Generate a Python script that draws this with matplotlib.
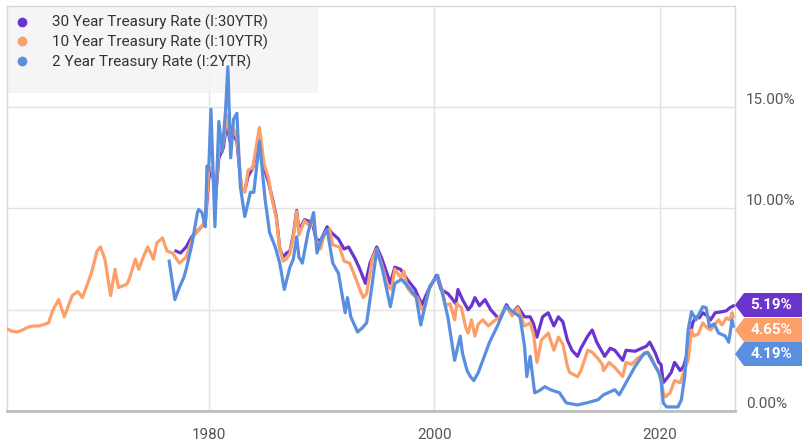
import matplotlib
matplotlib.use("Agg")
import matplotlib.pyplot as plt
from matplotlib.patches import Polygon, Rectangle
from matplotlib.lines import Line2D

plt.rcParams['font.family'] = ['Roboto', 'DejaVu Sans']

# ---------------- data ----------------
y10_t = [1962.0, 1962.5, 1963.0, 1963.5, 1964.0, 1964.5, 1965.0, 1965.8, 1966.2, 1966.7,
         1967.2, 1967.9, 1968.4, 1968.8, 1969.2, 1969.6, 1970.1, 1970.4, 1970.8, 1971.3,
         1971.7, 1972.0, 1972.5, 1972.8, 1973.0, 1973.5, 1973.8, 1974.2, 1974.6, 1975.1,
         1975.4, 1975.9, 1976.3, 1976.8, 1977.4, 1978.0, 1978.6, 1979.2, 1979.7, 1980.0,
         1980.3, 1980.6, 1980.9, 1981.3, 1981.6, 1981.9, 1982.1, 1982.5, 1982.9, 1983.2,
         1983.5, 1983.9, 1984.5, 1984.9, 1985.3, 1985.6, 1986.0, 1986.3, 1986.6, 1986.9,
         1987.2, 1987.5, 1987.8, 1988.0, 1988.5, 1989.0, 1989.3, 1989.6, 1989.9, 1990.3,
         1990.7, 1991.0, 1991.6, 1992.0, 1992.5, 1993.0, 1993.4, 1993.7, 1994.0, 1994.5,
         1994.9, 1995.3, 1995.9, 1996.2, 1996.5, 1997.0, 1997.3, 1997.6, 1998.0, 1998.5,
         1998.9, 1999.2, 1999.6, 2000.0, 2000.3, 2000.7, 2001.0, 2001.4, 2001.8, 2002.0,
         2002.4, 2002.8, 2003.0, 2003.3, 2003.6, 2003.9, 2004.3, 2004.8, 2005.2, 2005.8,
         2006.4, 2006.9, 2007.4, 2008.0, 2008.5, 2008.8, 2009.1, 2009.5, 2010.1, 2010.6,
         2011.0, 2011.4, 2011.8, 2012.0, 2012.7, 2013.0, 2013.6, 2014.0, 2014.5, 2014.9,
         2015.0, 2015.5, 2016.0, 2016.7, 2017.0, 2017.5, 2018.0, 2018.9, 2019.2, 2019.6,
         2019.9, 2020.1, 2020.3, 2020.5, 2020.9, 2021.3, 2021.8, 2022.1, 2022.5, 2022.8,
         2023.0, 2023.4, 2023.8, 2024.2, 2024.5, 2024.9, 2025.2, 2025.5, 2025.9, 2026.2,
         2026.4, 2026.5]
y10_v = [4.1, 3.95, 3.9, 4.0, 4.15, 4.2, 4.2, 4.35, 5.0, 5.5,
         4.65, 5.7, 5.9, 5.6, 6.2, 6.8, 7.9, 8.1, 7.5, 5.7,
         7.0, 6.1, 6.2, 6.3, 6.6, 7.5, 7.0, 7.6, 8.1, 7.5,
         8.3, 8.55, 7.9, 7.8, 7.3, 7.6, 8.6, 9.0, 9.4, 11.9,
         12.0, 10.5, 12.9, 13.2, 14.6, 13.5, 14.1, 13.5, 11.1, 10.8,
         11.9, 12.0, 14.0, 12.2, 11.5, 10.5, 9.5, 8.0, 7.4, 7.5,
         7.8, 8.6, 9.85, 8.7, 9.4, 9.1, 9.3, 8.3, 8.0, 8.8,
         9.0, 8.2, 8.1, 7.4, 7.3, 6.6, 6.0, 5.6, 5.8, 7.5,
         8.0, 7.3, 6.15, 6.0, 7.0, 6.6, 6.9, 6.1, 5.8, 5.6,
         5.0, 5.2, 6.15, 6.5, 6.6, 6.0, 5.2, 5.3, 4.5, 5.3,
         5.1, 4.1, 3.85, 4.5, 3.7, 4.3, 4.5, 4.2, 4.4, 4.65,
         5.15, 4.7, 5.1, 4.2, 4.35, 3.8, 2.4, 3.5, 3.85, 3.0,
         3.65, 3.3, 2.2, 1.9, 1.7, 2.0, 3.0, 2.9, 2.6, 2.3,
         2.0, 2.4, 2.15, 1.7, 2.4, 2.3, 2.6, 2.9, 2.7, 2.2,
         1.9, 1.6, 0.9, 0.7, 0.9, 1.5, 1.4, 1.9, 2.5, 4.0,
         3.7, 3.8, 4.35, 4.1, 4.0, 4.3, 4.5, 4.25, 4.6, 4.5,
         4.85, 4.65]

y30_t = [1977.1, 1977.5, 1978.0, 1978.5, 1979.2, 1979.7, 1980.0, 1980.3, 1980.6, 1980.9,
         1981.3, 1981.6, 1981.9, 1982.1, 1982.5, 1982.9, 1983.2, 1983.5, 1983.9, 1984.5,
         1984.9, 1985.3, 1985.6, 1986.0, 1986.3, 1986.6, 1986.9, 1987.2, 1987.5, 1987.8,
         1988.0, 1988.5, 1989.2, 1989.5, 1989.9, 1990.5, 1990.9, 1991.5, 1992.0, 1992.4,
         1993.0, 1993.4, 1993.9, 1994.3, 1994.9, 1995.3, 1995.8, 1996.1, 1996.5, 1997.0,
         1997.6, 1998.3, 1998.9, 1999.5, 2000.2, 2000.6, 2001.2, 2001.5, 2001.9, 2002.1,
         2002.5, 2003.0, 2003.3, 2003.6, 2004.0, 2004.5, 2005.0, 2005.8, 2006.4, 2006.9,
         2007.4, 2008.0, 2008.5, 2008.8, 2009.1, 2009.6, 2010.1, 2010.6, 2011.0, 2011.4,
         2011.8, 2012.2, 2012.7, 2013.0, 2013.6, 2014.0, 2014.4, 2015.1, 2015.6, 2016.0,
         2016.7, 2017.0, 2017.8, 2018.8, 2019.1, 2019.6, 2019.9, 2020.1, 2020.3, 2020.6,
         2021.0, 2021.3, 2021.8, 2022.1, 2022.5, 2022.9, 2023.2, 2023.5, 2023.8, 2024.2,
         2024.5, 2024.9, 2025.5, 2025.9, 2026.2, 2026.5]
y30_v = [7.9, 7.8, 8.1, 8.6, 9.0, 9.3, 11.5, 12.0, 10.5, 12.5,
         13.0, 14.2, 13.3, 13.8, 13.3, 11.0, 10.9, 11.6, 12.0, 13.4,
         12.0, 11.3, 10.6, 9.6, 8.0, 7.6, 7.8, 7.9, 8.7, 9.9,
         8.9, 9.45, 9.3, 8.5, 8.4, 9.1, 8.8, 8.5, 8.0, 8.1,
         7.5, 7.0, 6.3, 7.3, 8.1, 7.6, 6.8, 6.3, 7.1, 7.0,
         6.5, 6.0, 5.25, 6.0, 6.7, 6.0, 5.8, 5.6, 5.3, 6.0,
         5.5, 5.0, 5.2, 5.6, 5.2, 5.5, 5.0, 4.5, 5.25, 4.8,
         5.15, 4.65, 4.65, 4.3, 3.65, 4.65, 4.85, 4.2, 4.65, 4.4,
         3.5, 3.0, 2.7, 3.1, 3.7, 4.0, 3.4, 2.7, 3.1, 3.0,
         2.5, 3.0, 2.95, 3.2, 3.4, 2.85, 2.4, 2.3, 1.4, 1.6,
         1.9, 2.4, 2.0, 2.2, 3.0, 4.35, 4.65, 4.6, 4.85, 4.7,
         4.5, 4.85, 4.9, 4.95, 5.1, 5.19]

y2_t = [1976.5, 1977.0, 1977.4, 1977.8, 1978.0, 1978.5, 1979.0, 1979.1, 1979.4, 1979.7,
        1979.85, 1980.0, 1980.2, 1980.55, 1980.9, 1981.2, 1981.5, 1981.7, 1981.95, 1982.2,
        1982.5, 1982.8, 1983.2, 1983.7, 1984.0, 1984.5, 1985.0, 1985.4, 1985.9, 1986.3,
        1986.7, 1987.2, 1987.5, 1987.8, 1988.0, 1988.3, 1988.8, 1989.3, 1989.6, 1990.0,
        1990.5, 1991.0, 1991.5, 1992.1, 1992.3, 1992.6, 1993.2, 1993.6, 1994.0, 1994.5,
        1994.9, 1995.4, 1996.1, 1996.5, 1997.1, 1997.9, 1998.4, 1998.8, 1999.3, 1999.6,
        2000.3, 2000.7, 2001.2, 2001.8, 2002.3, 2002.5, 2002.9, 2003.2, 2003.5, 2003.9,
        2004.3, 2004.9, 2005.6, 2006.3, 2007.0, 2007.6, 2008.0, 2008.2, 2008.5, 2008.9,
        2009.3, 2009.8, 2010.3, 2011.1, 2011.7, 2012.7, 2013.5, 2014.5, 2015.0, 2016.0,
        2016.4, 2017.1, 2017.8, 2018.6, 2018.9, 2019.4, 2019.9, 2020.1, 2020.3, 2020.6,
        2021.6, 2021.9, 2022.2, 2022.5, 2022.8, 2023.2, 2023.8, 2024.1, 2024.4, 2024.8,
        2025.2, 2025.8, 2026.1, 2026.4, 2026.5]
y2_v = [7.4, 5.5, 6.1, 6.6, 7.0, 8.2, 9.8, 9.95, 9.8, 9.1,
        12.1, 11.9, 14.9, 9.1, 14.3, 12.8, 14.9, 17.0, 12.5, 14.4,
        14.7, 11.1, 9.6, 10.8, 10.8, 13.3, 10.45, 8.8, 8.1, 7.3,
        6.0, 7.1, 7.5, 8.6, 7.6, 7.3, 8.8, 9.8, 7.8, 8.5,
        8.96, 7.3, 6.8, 4.85, 5.6, 4.65, 3.9, 4.1, 4.35, 6.3,
        7.97, 7.0, 5.15, 6.3, 6.5, 6.0, 5.6, 4.25, 5.5, 6.15,
        6.7, 5.85, 4.65, 2.5, 3.7, 2.85, 2.0, 1.7, 1.5, 1.9,
        2.5, 3.4, 4.2, 5.15, 4.9, 4.65, 3.2, 1.7, 2.7, 0.9,
        1.0, 1.2, 1.05, 0.9, 0.4, 0.3, 0.4, 0.55, 0.8, 1.05,
        0.8, 1.5, 2.2, 2.85, 2.9, 2.4, 1.9, 1.5, 0.4, 0.2,
        0.2, 0.55, 1.7, 4.0, 4.9, 4.5, 5.15, 5.1, 4.15, 4.3,
        3.85, 3.7, 3.4, 4.5, 4.19]

series_names = ["30 Year Treasury Rate (I:30YTR)",
                "10 Year Treasury Rate (I:10YTR)",
                "2 Year Treasury Rate (I:2YTR)"]
last_labels = ["5.19%", "4.65%", "4.19%"]
x_ticks = [1980, 2000, 2020]
x_ticklabels = ["1980", "2000", "2020"]
y_ticks = [0, 5, 10, 15]
y_ticklabels = ["0.00%", "", "10.00%", "15.00%"]  # 5.00% is hidden behind the value tags

# ---------------- style ----------------
C30, C10, C2 = '#6a34cf', '#fc9f69', '#5a8ede'
colors = [C30, C10, C2]

W, H = 810, 443
fig = plt.figure(figsize=(W / 100, H / 100), dpi=100)
L, R, T, B = 7, 735, 6, 411
ax = fig.add_axes([L / W, 1 - B / H, (R - L) / W, (B - T) / H])

lw = 2.3
ax.plot(y30_t, y30_v, color=C30, lw=lw, zorder=3, solid_joinstyle='round')
ax.plot(y10_t, y10_v, color=C10, lw=lw, zorder=4, solid_joinstyle='round')
ax.plot(y2_t, y2_v, color=C2, lw=lw, zorder=5, solid_joinstyle='round')

x0 = 1980 - (208.7 - L) / 11.28
x1 = 1980 + (R - 208.7) / 11.28
ax.set_xlim(x0, x1)
ax.set_ylim(0, 20)

ax.set_xticks(x_ticks)
ax.set_xticklabels(x_ticklabels)
ax.set_yticks(y_ticks)
ax.set_yticklabels(y_ticklabels)
ax.yaxis.tick_right()
ax.tick_params(axis='both', length=0, labelsize=11, labelcolor='#555555')
ax.tick_params(axis='x', pad=12)
ax.tick_params(axis='y', pad=8)
for lbl in ax.get_yticklabels():
    lbl.set_verticalalignment('bottom')
ax.grid(True, color='#e3e3e3', lw=1.0, zorder=0)
ax.set_axisbelow(True)

for s in ['left', 'top', 'right']:
    ax.spines[s].set_color('#d9d9d9')
    ax.spines[s].set_linewidth(1.0)
ax.spines['bottom'].set_color('#bdbdbd')
ax.spines['bottom'].set_linewidth(2.0)

# legend background
lx1 = (318 - L) / (R - L)
ly0 = (B - 93) / (B - T)
ax.add_patch(Rectangle((0, ly0), lx1, 1 - ly0, transform=ax.transAxes,
                       facecolor='#f4f4f4', edgecolor='none', alpha=0.85, zorder=2))
handles = [Line2D([], [], marker='o', ls='none', color=c, markersize=6) for c in colors]
leg = ax.legend(handles, series_names, loc='upper left',
                bbox_to_anchor=((17 - L) / (R - L), 1 - 9 / (B - T)),
                frameon=False, fontsize=11, handlelength=0.7, handletextpad=1.6,
                labelspacing=0.28, borderaxespad=0, borderpad=0, labelcolor='#333333')
leg.set_zorder(6)

# value tags on the right
def yfrac(py):
    return (B - py) / (B - T)

def xfrac(px):
    return (px - L) / (R - L)

tag_centers = [305, 330, 354]
for lab, col, cy in zip(last_labels, colors, tag_centers):
    h = 12
    pts = [(xfrac(735), yfrac(cy)), (xfrac(744), yfrac(cy - h)), (xfrac(802), yfrac(cy - h)),
           (xfrac(802), yfrac(cy + h)), (xfrac(744), yfrac(cy + h))]
    ax.add_patch(Polygon(pts, closed=True, transform=ax.transAxes, facecolor=col,
                         edgecolor='none', clip_on=False, zorder=7))
    ax.text(xfrac(771), yfrac(cy), lab, transform=ax.transAxes, color='white',
            fontsize=11, fontweight='bold', ha='center', va='center', zorder=8,
            clip_on=False)

fig.savefig('out.png', dpi=100)
